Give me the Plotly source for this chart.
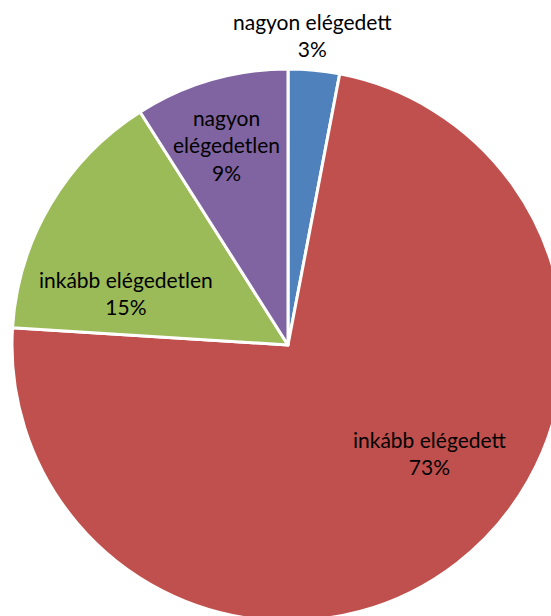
import plotly.graph_objects as go

labels = ["nagyon elégedett", "inkább elégedett", "inkább elégedetlen", "nagyon elégedetlen"]
values = [3, 73, 15, 9]
colors = ["#4F81BD", "#C0504D", "#9BBB59", "#8064A2"]
label_lines = ["nagyon elégedett", "inkább elégedett", "inkább elégedetlen", "nagyon<br>elégedetlen"]

W, H = 564, 621
L, T, S = 12, 69, 552


def px(x, y):
    return (x - L) / S, 1 - (y - T) / S


label_pos = [(312, 35), (430, 453), (126, 293), (226, 145)]

fig = go.Figure(go.Pie(
    labels=labels, values=values, sort=False, direction="clockwise", rotation=0,
    marker=dict(colors=colors, line=dict(color="white", width=3)),
    textinfo="none", hoverinfo="label+percent", showlegend=False,
))

for lab, v, (x, y) in zip(label_lines, values, label_pos):
    ax, ay = px(x, y)
    fig.add_annotation(x=ax, y=ay, xref="paper", yref="paper", showarrow=False,
                       xanchor="center", yanchor="middle",
                       text=f"{lab}<br>{v}%", align="center",
                       font=dict(family="Lato, Carlito, sans-serif", size=21, color="#000000"))

fig.update_layout(width=W, height=H, margin=dict(l=L, r=W - L - S, t=T, b=H - T - S),
                  paper_bgcolor="white", plot_bgcolor="white")

fig.write_html("out.html", config={"displayModeBar": False},
               post_script="document.body.style.margin='0';document.body.style.overflow='hidden';document.documentElement.style.overflow='hidden';")
